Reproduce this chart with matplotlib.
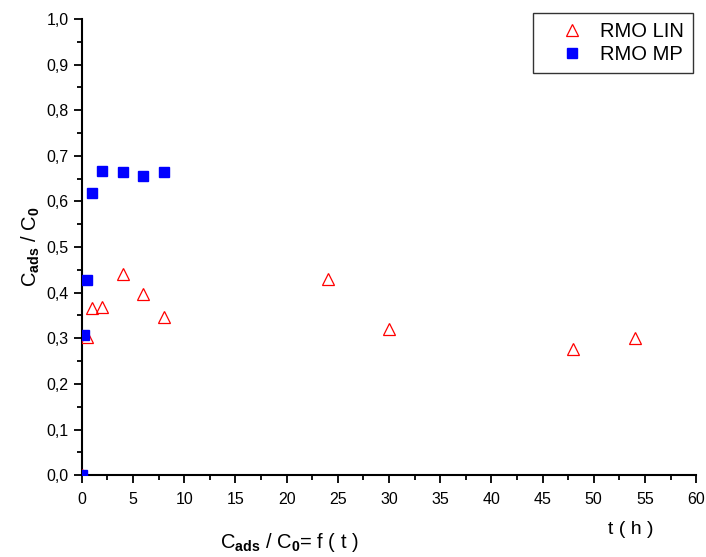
import matplotlib
matplotlib.use("Agg")
import matplotlib.pyplot as plt
from matplotlib.ticker import MultipleLocator, FuncFormatter

plt.rcParams['font.family'] = ['Liberation Sans', 'DejaVu Sans']
plt.rcParams['mathtext.fontset'] = 'custom'
plt.rcParams['mathtext.rm'] = 'Liberation Sans'
plt.rcParams['mathtext.bf'] = 'Liberation Sans:bold'
plt.rcParams['mathtext.it'] = 'Liberation Sans:italic'

t_lin = [0, 0.5, 1, 2, 4, 6, 8, 24, 30, 48, 54]
c_lin = [0.0, 0.303, 0.367, 0.368, 0.44, 0.396, 0.346, 0.43, 0.32, 0.276, 0.301]
t_mp = [0, 0.25, 0.5, 1, 2, 4, 6, 8]
c_mp = [0.0, 0.308, 0.428, 0.618, 0.667, 0.664, 0.655, 0.664]

fig = plt.figure(figsize=(7.06, 5.57), dpi=100)
ax = fig.add_axes([0.116, 0.147, 0.870, 0.819])

ax.plot(t_lin, c_lin, linestyle='none', marker='^', markersize=9,
        markerfacecolor='none', markeredgecolor='red', markeredgewidth=0.9,
        label='RMO LIN', clip_on=True, zorder=3)
ax.plot(t_mp, c_mp, linestyle='none', marker='s', markersize=7,
        color='blue', label='RMO MP', clip_on=True, zorder=4)

ax.set_xlim(0, 60)
ax.set_ylim(0, 1.0)
ax.xaxis.set_major_locator(MultipleLocator(5))
ax.xaxis.set_minor_locator(MultipleLocator(2.5))
ax.yaxis.set_major_locator(MultipleLocator(0.1))
ax.yaxis.set_minor_locator(MultipleLocator(0.05))
ax.yaxis.set_major_formatter(FuncFormatter(lambda v, p: f"{v:.1f}".replace('.', ',')))
ax.xaxis.set_major_formatter(FuncFormatter(lambda v, p: f"{v:.0f}"))

for s in ['top', 'right']:
    ax.spines[s].set_visible(False)
for s in ['left', 'bottom']:
    ax.spines[s].set_linewidth(1.5)
ax.tick_params(which='major', direction='out', length=6, width=1.3, labelsize=11.5)
ax.tick_params(which='minor', direction='out', length=3.5, width=1.3)
ax.tick_params(axis='x', pad=6)

ax.set_ylabel(r'C$_{\mathbf{ads}}$ / C$_{\mathbf{0}}$', fontsize=14.5, labelpad=3)
fig.text(0.41, 0.005, r'C$_{\mathbf{ads}}$ / C$_{\mathbf{0}}$= f ( t )', fontsize=14.5, ha='center', va='bottom')
fig.text(0.893, 0.035, 't ( h )', fontsize=14, ha='center', va='bottom')

leg = ax.legend(loc='upper right', bbox_to_anchor=(0.995, 1.013), frameon=True, fancybox=False,
                edgecolor='black', fontsize=14.5, handletextpad=-0.1, borderpad=0.45,
                labelspacing=0.2, handlelength=3.0, borderaxespad=0.0, markerfirst=True)
leg.get_frame().set_linewidth(1.0)

fig.savefig('out.png', dpi=100)
